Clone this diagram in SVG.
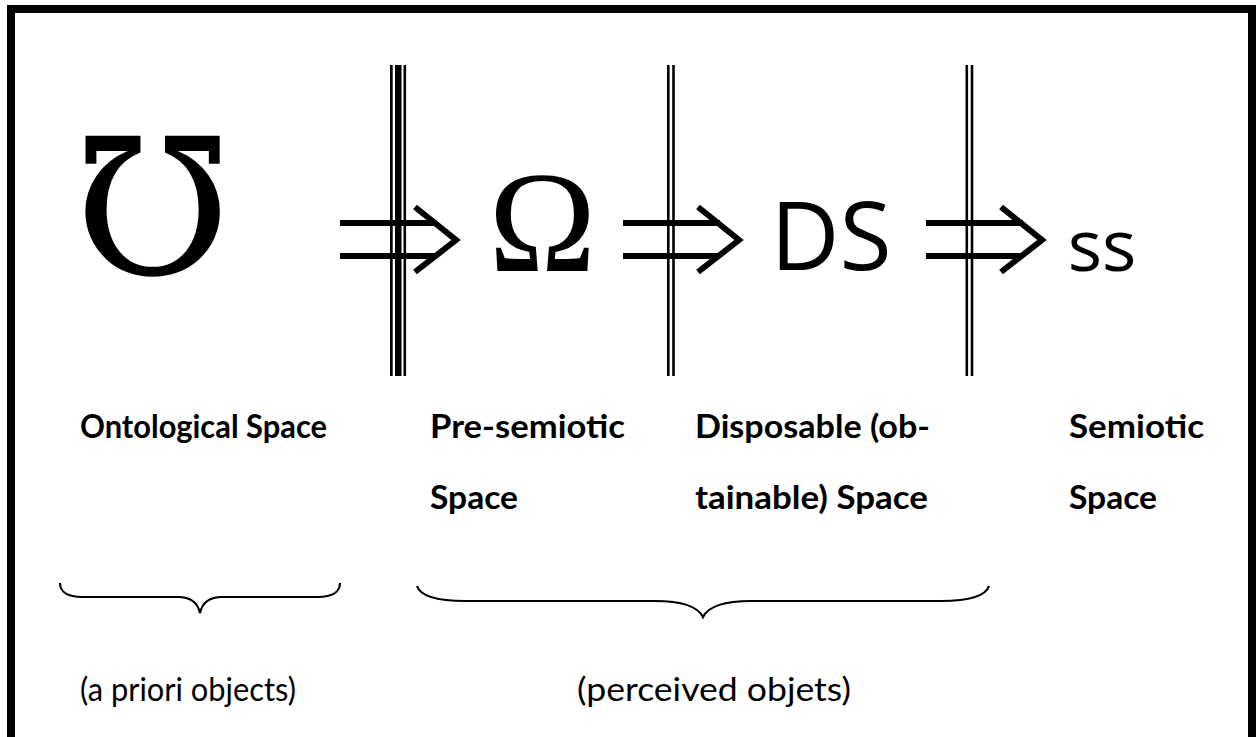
<svg xmlns="http://www.w3.org/2000/svg" width="1257" height="737" viewBox="0 0 1257 737">
<style>
.lbl{font-family:Lato,"Open Sans","Liberation Sans",sans-serif;font-weight:bold;font-size:33px;fill:#000}
.sub{font-family:Lato,"Open Sans","Liberation Sans",sans-serif;font-size:33px;fill:#000}
.arr{fill:none;stroke:#000;stroke-width:6}
.brace{fill:none;stroke:#000;stroke-width:2.2}
.bar{fill:#000}
</style>
<rect x="0" y="0" width="1257" height="737" fill="#fff"/>
<rect x="11" y="9" width="1241" height="800" fill="none" stroke="#000" stroke-width="8"/>
<g id="mho"><text x="152.5" y="274" text-anchor="middle" style="font-family:'Liberation Serif','DejaVu Serif',serif;font-size:190px">℧</text></g>
<g id="omega"><text x="542.5" y="271" text-anchor="middle" style="font-family:'Liberation Serif','DejaVu Serif',serif;font-size:145px">Ω</text></g>
<g id="ds"><text x="831" y="270" text-anchor="middle" style="font-family:'Open Sans',sans-serif;font-size:95px">DS</text></g>
<g id="ss"><text x="1102" y="271" text-anchor="middle" style="font-family:'Open Sans',sans-serif;font-size:72px">ss</text></g>
<g id="connectors">
<path class="arr" d="M340,223 H437 M340,256 H437 M415,207 L456,240 L415,272"/>
<path class="arr" d="M623,223 H720 M623,256 H720 M698,207 L739,240 L698,272"/>
<path class="arr" d="M926,223 H1023 M926,256 H1023 M1001,207 L1042,240 L1001,272"/>
<rect class="bar" x="390" y="65" width="2.7" height="311"/>
<rect class="bar" x="395" y="65" width="6.5" height="311"/>
<rect class="bar" x="403.5" y="65" width="2.6" height="311"/>
<rect class="bar" x="667" y="65" width="2.6" height="311"/>
<rect class="bar" x="672.2" y="65" width="2.6" height="311"/>
<rect class="bar" x="965.5" y="65" width="2.6" height="311"/>
<rect class="bar" x="970.7" y="65" width="2.6" height="311"/>
</g>
<g id="label-ontological"><text class="lbl" x="80" y="438" textLength="247" lengthAdjust="spacingAndGlyphs">Ontological Space</text></g>
<g id="label-presemiotic"><text class="lbl" x="430" y="438" textLength="195" lengthAdjust="spacingAndGlyphs">Pre-semiotic</text><text class="lbl" x="430" y="509" textLength="88" lengthAdjust="spacingAndGlyphs">Space</text></g>
<g id="label-disposable"><text class="lbl" x="695" y="438" textLength="235" lengthAdjust="spacingAndGlyphs">Disposable (ob-</text><text class="lbl" x="695" y="509" textLength="233" lengthAdjust="spacingAndGlyphs">tainable) Space</text></g>
<g id="label-semiotic"><text class="lbl" x="1069" y="438" textLength="135" lengthAdjust="spacingAndGlyphs">Semiotic</text><text class="lbl" x="1069" y="509" textLength="88" lengthAdjust="spacingAndGlyphs">Space</text></g>
<g id="brace-left"><path class="brace" d="M60,583 C60,592 68,597 82,597 L178,597 C192,597 198,604 200,613 C202,604 208,597 222,597 L318,597 C332,597 340,592 340,583"/></g>
<g id="brace-right"><path class="brace" d="M417,586 C420,595 435,601 465,601 L655,601 C685,601 698,607 703,617 C708,607 721,601 751,601 L941,601 C971,601 986,595 989,586"/></g>
<g id="sub-apriori"><text class="sub" x="80" y="701" textLength="216" lengthAdjust="spacingAndGlyphs">(a priori objects)</text></g>
<g id="sub-perceived"><text class="sub" x="577" y="701" textLength="274" lengthAdjust="spacingAndGlyphs">(perceived objets)</text></g>
</svg>
